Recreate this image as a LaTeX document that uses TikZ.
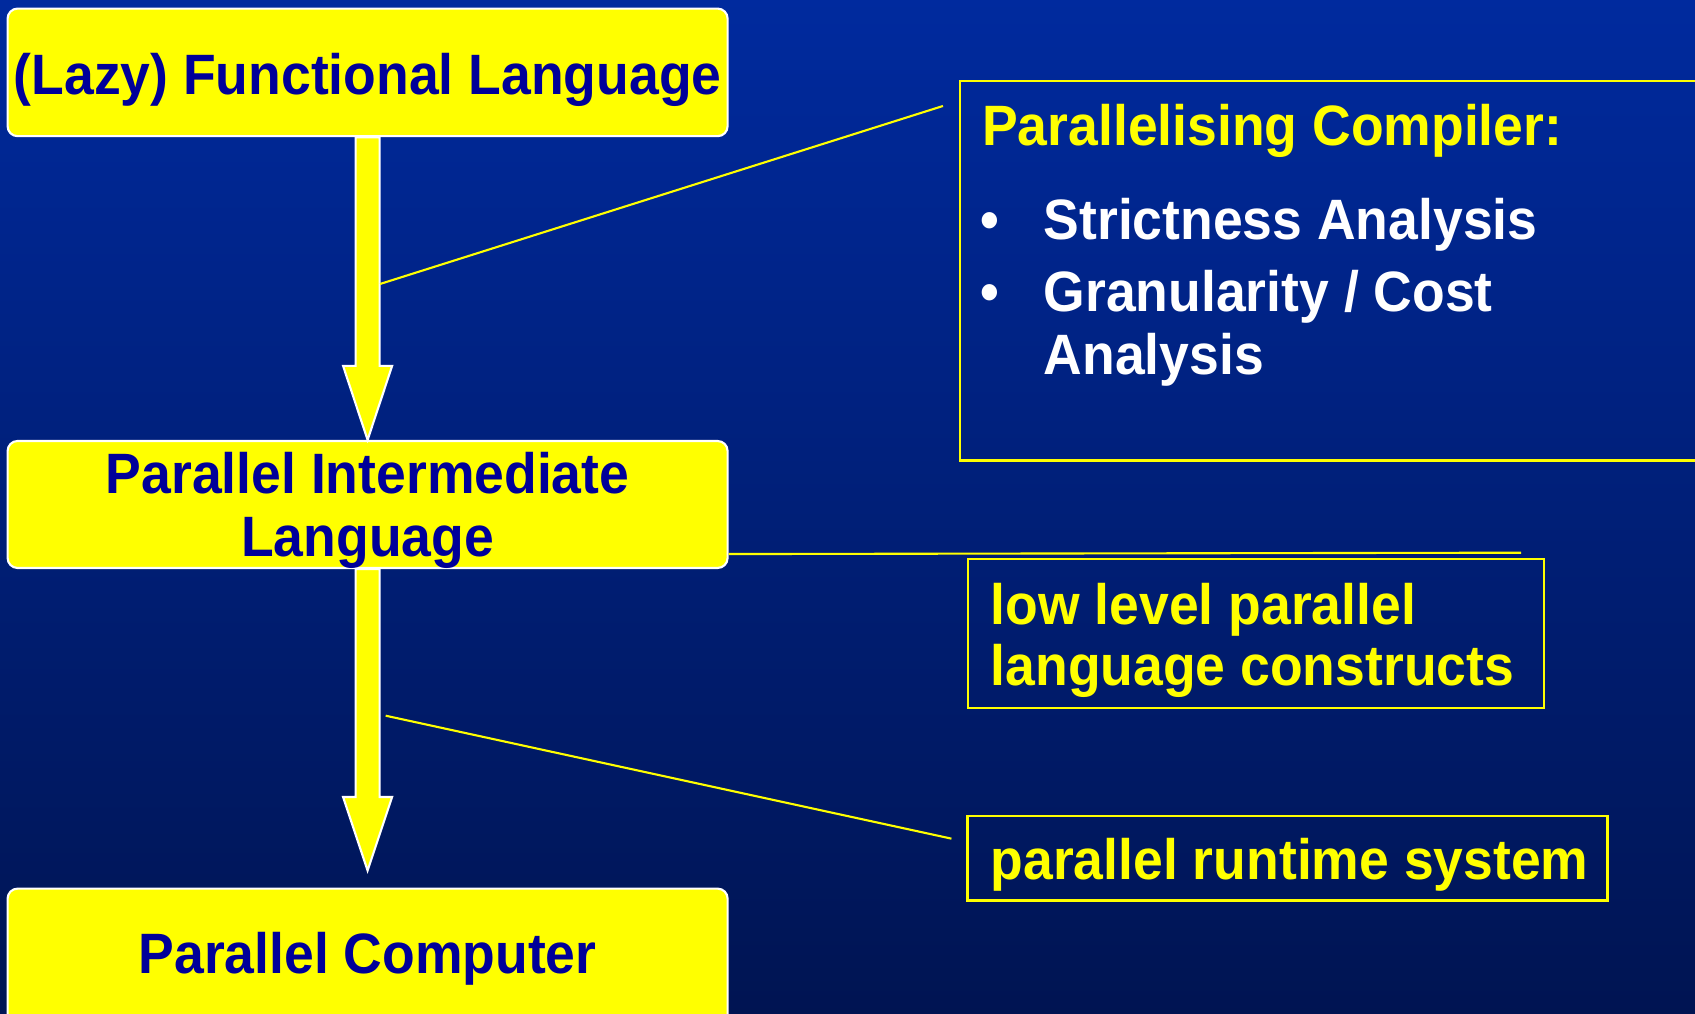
\documentclass[tikz,border=0pt]{standalone}
\usepackage{fontspec}
\setmainfont[FakeStretch=0.94]{Liberation Sans}
\usetikzlibrary{calc}

\definecolor{slidetop}{RGB}{0,42,158}
\definecolor{slidebot}{RGB}{0,20,82}
\definecolor{hiyellow}{RGB}{255,255,0}
\definecolor{deepblue}{RGB}{0,0,153}

\tikzset{
  stagebox/.style={draw=white, line width=0.6pt, fill=hiyellow, rounded corners=1mm,
    minimum width=7.2cm, inner sep=0pt},
  boxlabel/.style={inner sep=0pt, align=center, text=deepblue,
    font=\bfseries\fontsize{16.2}{17.8}\selectfont},
  notebox/.style={draw=hiyellow, line width=0.6pt, inner sep=0pt},
  notetext/.style={anchor=base west, inner sep=0pt, text=hiyellow,
    font=\bfseries\fontsize{16.2}{17.8}\selectfont},
  itemtext/.style={notetext, text=white},
  flowarrow/.style={fill=hiyellow, draw=white, line width=0.6pt},
  leader/.style={draw=hiyellow, line width=0.6pt},
}

\begin{document}
\begin{tikzpicture}
  \useasboundingbox (0,0) rectangle (16.95,-10.14);
  \clip (0,0) rectangle (16.95,-10.14);
  \shade[top color=slidetop, bottom color=slidebot] (0,0) rectangle (16.95,-10.14);

  % the three stages
  \node[stagebox, minimum height=1.276cm,
    label={[boxlabel, yshift=-0.8mm]center:(Lazy) Functional Language}] (lazy) at (3.676,-0.724) {};
  \node[stagebox, minimum height=1.27cm,
    label={[boxlabel, yshift=-0.6mm]center:{Parallel Intermediate\\Language}}] (pil) at (3.676,-5.045) {};
  \node[stagebox, minimum height=1.6cm,
    label={[boxlabel, yshift=1mm]center:Parallel Computer}] (pc) at (3.676,-9.686) {};

  % fat arrows between the stages
  \draw[flowarrow] ([xshift=-1.2mm]lazy.south) -- ([xshift=-1.2mm,yshift=7.4mm]pil.north)
    -- ++(-1.25mm,0) -- (pil.north) -- ++(2.45mm,7.4mm) -- ++(-1.25mm,0)
    -- ([xshift=1.2mm]lazy.south) -- cycle;
  \draw[flowarrow] ([xshift=-1.2mm]pil.south) -- ([xshift=-1.2mm,yshift=9.05mm]pc.north)
    -- ++(-1.25mm,0) -- ([yshift=1.7mm]pc.north) -- ++(2.45mm,7.35mm) -- ++(-1.25mm,0)
    -- ([xshift=1.2mm]pil.south) -- cycle;

  % side notes
  \node[notebox, minimum width=7.6cm, minimum height=3.795cm] (comp) at (13.40,-2.708) {};
  \node[notetext] (comptitle) at (9.815,-1.46) {Parallelising Compiler:};
  \node[itemtext] (sa) at (9.80,-2.40) {\makebox[0.63cm][l]{\textbullet}Strictness Analysis};
  \node[itemtext] (gca) at (9.80,-3.12) {\makebox[0.63cm][l]{\textbullet}Granularity / Cost};
  \node[itemtext] (gcb) at (10.43,-3.75) {Analysis};

  \node[notebox, minimum width=5.765cm, minimum height=1.49cm] (low) at (12.558,-6.335) {};
  \node[notetext] (lowa) at (9.90,-6.24) {low level parallel};
  \node[notetext] (lowb) at (9.90,-6.85) {language constructs};

  \node[notebox, minimum width=6.4cm, minimum height=0.848cm] (rts) at (12.875,-8.581) {};
  \node[notetext] (rtstext) at (9.90,-8.79) {parallel runtime system};

  % leader lines
  \coordinate (c1) at (3.80,-2.84);
  \coordinate (c1e) at ([xshift=-1.6mm,yshift=-2.6mm]comp.north west);
  \coordinate (c2) at ([yshift=1.5mm]pil.south east);
  \coordinate (c2e) at (15.21,-5.527);
  \coordinate (c3) at (3.857,-7.157);
  \coordinate (c3e) at ([xshift=-1.5mm,yshift=-2.4mm]rts.north west);
  \draw[leader] (c1) -- (c1e);
  \draw[leader] (c2) -- (c2e);
  \draw[leader] (c3) -- (c3e);
\end{tikzpicture}
\end{document}
